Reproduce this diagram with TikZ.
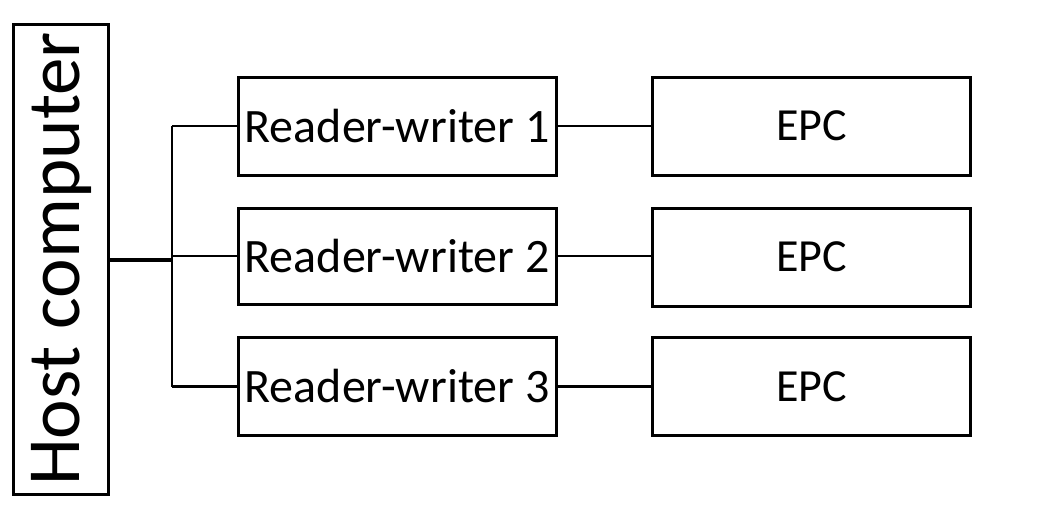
\documentclass[tikz,border=0pt]{standalone}
\usepackage{fontspec}
\setmainfont{Carlito}
\begin{document}
\begin{tikzpicture}[x=1pt,y=-1pt,
  box/.style={draw,line width=3pt,rectangle,inner sep=0pt,anchor=center},
  rwbox/.style={box,minimum width=318pt,minimum height=98pt,font=\fontsize{48}{56}\selectfont},
  epcbox/.style={box,minimum width=318pt,minimum height=98pt,font=\fontsize{46}{54}\selectfont},
  wire/.style={line width=2.5pt}]
\useasboundingbox (0,0) rectangle (1037,506);
\node[box,minimum width=470pt,minimum height=95pt,rotate=90,font=\fontsize{75}{85}\selectfont] (host) at (61,259) {Host computer};
\node[rwbox] (rw1) at (397,126) {Reader-writer 1};
\node[rwbox,minimum height=96pt] (rw2) at (397,256) {Reader-writer 2};
\node[rwbox] (rw3) at (397,386.5) {Reader-writer 3};
\node[epcbox] (e1) at (811.5,126) {EPC};
\node[epcbox] (e2) at (811.5,257) {EPC};
\node[epcbox] (e3) at (811.5,386.5) {EPC};
\coordinate (j) at (172,260);
\draw[line width=4.5pt] (host.south |- j) -- (j);
\draw[wire] (j |- rw1.west) -- (j |- rw3.west);
\draw[wire] (j |- rw1.west) -- (rw1.west);
\draw[wire] (j |- rw2.west) -- (rw2.west);
\draw[wire] (j |- rw3.west) -- (rw3.west);
\draw[wire] (rw1.east) -- (e1.west);
\draw[wire] (rw2.east) -- (e2.west |- rw2.east);
\draw[wire] (rw3.east) -- (e3.west);
\end{tikzpicture}
\end{document}
